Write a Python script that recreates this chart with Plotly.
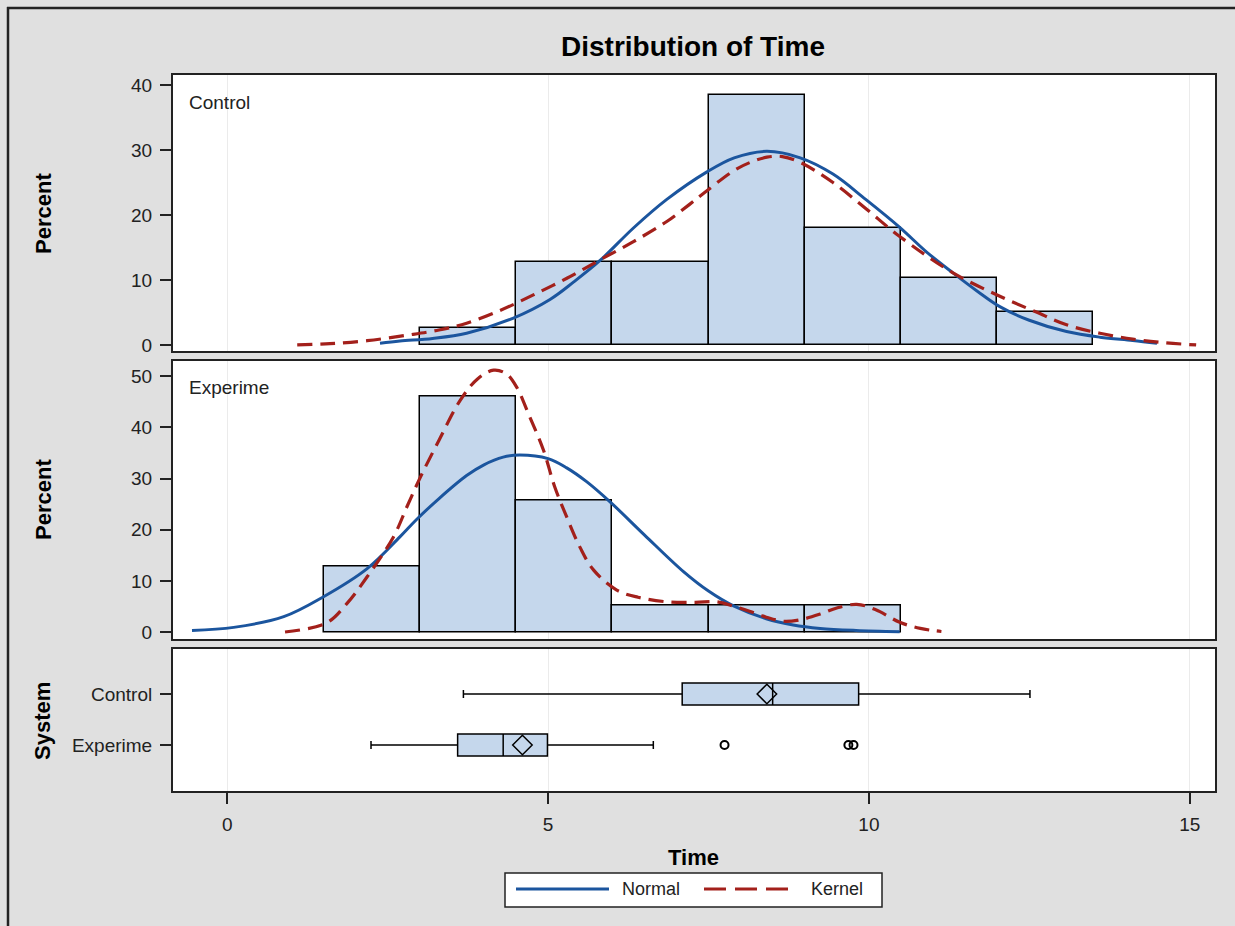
import plotly.graph_objects as go
from plotly.subplots import make_subplots

# ---------------- data ----------------
bin_width = 1.5
control_bins = [3.75, 5.25, 6.75, 8.25, 9.75, 11.25, 12.75]
control_pct = [2.56, 12.82, 12.82, 38.46, 17.95, 10.26, 5.13]
exper_bins = [2.25, 3.75, 5.25, 6.75, 8.25, 9.75]
exper_pct = [12.82, 46.15, 25.64, 5.13, 5.13, 5.13]

control_normal_x = [2.38, 2.69, 3.2, 3.73, 4.45, 5.03, 5.4, 5.81, 6.33, 6.85, 7.47, 7.9, 8.41,
                    8.93, 9.44, 9.95, 10.48, 10.9, 11.31, 11.7, 12.04, 12.5, 13.08, 13.6, 14.11, 14.49]
control_normal_y = [0.26, 0.6, 1.0, 1.8, 4.1, 7.0, 9.7, 13.0, 18.0, 22.4, 26.6, 28.8, 29.8,
                    28.8, 26.3, 22.4, 18.1, 14.3, 11.1, 8.2, 5.9, 3.8, 2.06, 1.2, 0.7, 0.26]
control_kernel_x = [1.09, 1.6, 2.18, 2.8, 3.3, 3.73, 4.25, 4.77, 5.3, 5.81, 6.33, 6.85, 7.2,
                    7.47, 7.89, 8.15, 8.41, 8.65, 8.93, 9.44, 9.95, 10.48, 11.31, 12.04, 12.6,
                    13.08, 13.6, 14.11, 14.6, 15.1]
control_kernel_y = [0.0, 0.2, 0.66, 1.5, 2.3, 3.35, 5.3, 7.7, 10.3, 13.1, 15.9, 19.0, 21.6,
                    23.7, 26.8, 28.1, 28.9, 29.0, 28.1, 25.0, 21.0, 16.7, 11.1, 7.5, 5.1,
                    3.1, 1.8, 0.9, 0.35, 0.0]

exper_normal_x = [-0.55, 0.1, 0.88, 1.5, 2.18, 2.69, 2.95, 3.3, 3.73, 4.0, 4.3, 4.56, 5.0,
                  5.29, 5.6, 5.97, 6.5, 7.11, 7.5, 7.89, 8.4, 8.82, 9.24, 9.8, 10.48]
exper_normal_y = [0.3, 0.9, 3.0, 6.9, 12.4, 18.6, 22.0, 26.1, 30.6, 32.7, 34.2, 34.6, 33.9,
                  32.1, 29.4, 25.4, 19.0, 11.8, 8.0, 5.1, 2.6, 1.37, 0.7, 0.3, 0.05]
exper_kernel_x = [0.9, 1.55, 1.86, 2.18, 2.59, 2.8, 3.01, 3.3, 3.63, 3.9, 4.15, 4.35, 4.51,
                  4.7, 4.93, 5.1, 5.29, 5.5, 5.71, 6.07, 6.4, 6.85, 7.3, 7.63, 7.9, 8.15,
                  8.4, 8.67, 8.93, 9.24, 9.5, 9.81, 10.1, 10.48, 10.8, 11.13]
exper_kernel_y = [0.0, 1.8, 5.5, 10.8, 18.6, 24.5, 30.3, 37.5, 45.3, 49.5, 51.2, 50.5, 47.9,
                  42.5, 35.5, 28.5, 22.5, 16.5, 12.1, 8.2, 6.8, 5.9, 5.8, 5.9, 5.0, 4.0,
                  2.9, 2.1, 2.4, 3.5, 4.7, 5.4, 4.4, 1.9, 0.7, 0.1]

box_groups = ["Control", "Experime"]
box_pos = [1, 0]
box_q1 = [7.09, 3.59]
box_median = [8.50, 4.30]
box_q3 = [9.84, 4.99]
box_low = [3.68, 2.24]
box_high = [12.51, 6.64]
box_mean = [8.41, 4.60]
outlier_x = [7.75, 9.68, 9.76]
outlier_pos = [0, 0, 0]

x_ticks = [0, 5, 10, 15]
pct_ticks_top = [0, 10, 20, 30, 40]
pct_ticks_mid = [0, 10, 20, 30, 40, 50]

# ---------------- styles ----------------
FONT = "Arial, 'Liberation Sans', sans-serif"
BG = "#e0e0e0"
FILL = "#c5d7ec"
BLUE = "#1b559e"
RED = "#a3201b"
FRAME = "#222222"

W, H = 1235, 926
L, R, T, B = 173, 20, 75, 135
PW, PH = W - L - R, H - T - B


def px(xp):
    return (xp - L) / PW


def py(yp):
    return (H - B - yp) / PH


fig = make_subplots(rows=3, cols=1, shared_xaxes=True, vertical_spacing=0.01)

# Control panel
fig.add_trace(go.Bar(x=control_bins, y=control_pct, width=bin_width,
                     marker=dict(color=FILL, line=dict(color="black", width=1.5)),
                     showlegend=False), row=1, col=1)
fig.add_trace(go.Scatter(x=control_normal_x, y=control_normal_y, mode="lines",
                         line=dict(color=BLUE, width=3, shape="spline", smoothing=1.0),
                         name="Normal", showlegend=False), row=1, col=1)
fig.add_trace(go.Scatter(x=control_kernel_x, y=control_kernel_y, mode="lines",
                         line=dict(color=RED, width=3.2, dash="15px,8px", shape="spline", smoothing=1.0),
                         name="Kernel", showlegend=False), row=1, col=1)

# Experimental panel
fig.add_trace(go.Bar(x=exper_bins, y=exper_pct, width=bin_width,
                     marker=dict(color=FILL, line=dict(color="black", width=1.5)),
                     showlegend=False), row=2, col=1)
fig.add_trace(go.Scatter(x=exper_normal_x, y=exper_normal_y, mode="lines",
                         line=dict(color=BLUE, width=3, shape="spline", smoothing=1.0),
                         showlegend=False), row=2, col=1)
fig.add_trace(go.Scatter(x=exper_kernel_x, y=exper_kernel_y, mode="lines",
                         line=dict(color=RED, width=3.2, dash="15px,8px", shape="spline", smoothing=1.0),
                         showlegend=False), row=2, col=1)

# Box panel
fig.add_trace(go.Box(y=box_pos, q1=box_q1, median=box_median, q3=box_q3,
                     lowerfence=box_low, upperfence=box_high, orientation="h",
                     fillcolor=FILL, line=dict(color="black", width=1.5),
                     width=0.43, whiskerwidth=0.36, boxpoints=False,
                     showlegend=False), row=3, col=1)
fig.add_trace(go.Scatter(x=box_mean, y=box_pos, mode="markers",
                         marker=dict(symbol="diamond-open", size=15,
                                     line=dict(color="black", width=1.5), color="black"),
                         showlegend=False), row=3, col=1)
fig.add_trace(go.Scatter(x=outlier_x, y=outlier_pos, mode="markers",
                         marker=dict(symbol="circle-open", size=8,
                                     line=dict(color="black", width=2), color="black"),
                         showlegend=False), row=3, col=1)

xrange = [-0.846, 15.394]
domains = [[py(351), 1.0], [py(639), py(360.5)], [0.0, py(649)]]
for i, dom in enumerate(domains, start=1):
    xa = dict(range=xrange, tickvals=x_ticks, showgrid=True, gridcolor="#ebebeb", gridwidth=1,
              showline=True, mirror=True, linecolor=FRAME, linewidth=2, zeroline=False,
              tickfont=dict(family=FONT, size=19, color="#222"))
    if i < 3:
        xa.update(showticklabels=False, ticks="")
    else:
        xa.update(showticklabels=True, ticks="outside", ticklen=11, tickwidth=1.5,
                  tickcolor=FRAME, ticklabelstandoff=4)
    fig.update_xaxes(**xa, row=i, col=1)
    fig.update_yaxes(domain=dom, row=i, col=1)

ya_common = dict(showgrid=False, zeroline=False, showline=True, mirror=True, linecolor=FRAME,
                 linewidth=2, ticks="outside", ticklen=11, tickwidth=1.5, tickcolor=FRAME,
                 tickfont=dict(family=FONT, size=19, color="#222"), ticklabelstandoff=4)
fig.update_yaxes(**ya_common, range=[-0.93, 41.55], tickvals=pct_ticks_top, row=1, col=1)
fig.update_yaxes(**ya_common, range=[-1.37, 53.1], tickvals=pct_ticks_mid, row=2, col=1)
fig.update_yaxes(**ya_common, range=[-0.902, 1.882], tickvals=box_pos, ticktext=box_groups,
                 type="linear", row=3, col=1)

ann = []
ann.append(dict(text="Control", x=px(187), y=py(102), xref="paper", yref="paper",
                xanchor="left", yanchor="middle", showarrow=False,
                font=dict(family=FONT, size=19, color="#222")))
ann.append(dict(text="Experime", x=px(187), y=py(387), xref="paper", yref="paper",
                xanchor="left", yanchor="middle", showarrow=False,
                font=dict(family=FONT, size=19, color="#222")))
for txt, yc, xc in [("Percent", 214, 44), ("Percent", 500, 44), ("System", 721, 42)]:
    ann.append(dict(text="<b>" + txt + "</b>", x=px(xc), y=py(yc), xref="paper", yref="paper",
                    xanchor="center", yanchor="middle", textangle=-90, showarrow=False,
                    font=dict(family=FONT, size=22, color="black")))
ann.append(dict(text="<b>Time</b>", x=px(693), y=py(857), xref="paper", yref="paper",
                xanchor="center", yanchor="middle", showarrow=False,
                font=dict(family=FONT, size=22, color="black")))
ann.append(dict(text="Normal", x=px(620), y=py(889), xref="paper", yref="paper",
                xanchor="left", yanchor="middle", showarrow=False,
                font=dict(family=FONT, size=18, color="#222")))
ann.append(dict(text="Kernel", x=px(809), y=py(889), xref="paper", yref="paper",
                xanchor="left", yanchor="middle", showarrow=False,
                font=dict(family=FONT, size=18, color="#222")))

shapes = []
# outer frame (only left and top edges fall inside the picture)
shapes.append(dict(type="line", xref="paper", yref="paper", x0=px(8), x1=px(8),
                   y0=py(926), y1=py(7), line=dict(color=FRAME, width=2.5), layer="below"))
shapes.append(dict(type="line", xref="paper", yref="paper", x0=px(7), x1=px(1235),
                   y0=py(8), y1=py(8), line=dict(color=FRAME, width=2.5), layer="below"))
# legend box
shapes.append(dict(type="rect", xref="paper", yref="paper", x0=px(505), x1=px(882),
                   y0=py(907), y1=py(873), fillcolor="white", line=dict(color=FRAME, width=1.5)))
shapes.append(dict(type="line", xref="paper", yref="paper", x0=px(516), x1=px(609),
                   y0=py(889), y1=py(889), line=dict(color=BLUE, width=3)))
shapes.append(dict(type="line", xref="paper", yref="paper", x0=px(704), x1=px(790),
                   y0=py(889), y1=py(889), line=dict(color=RED, width=3.2, dash="22px,9px")))

fig.update_layout(
    width=W, height=H,
    margin=dict(l=L, r=R, t=T, b=B, autoexpand=False),
    paper_bgcolor=BG, plot_bgcolor="white",
    title=dict(text="<b>Distribution of Time</b>", x=px(693), xref="paper", xanchor="center",
               y=1 - 46 / H, yref="container", yanchor="middle",
               font=dict(family=FONT, size=28, color="black")),
    bargap=0, showlegend=False,
    annotations=ann, shapes=shapes,
    font=dict(family=FONT),
)

fig.write_html(
    "out.html",
    config={"displayModeBar": False},
    post_script="document.body.style.margin='0';document.body.style.overflow='hidden';"
                "document.documentElement.style.overflow='hidden';",
)
